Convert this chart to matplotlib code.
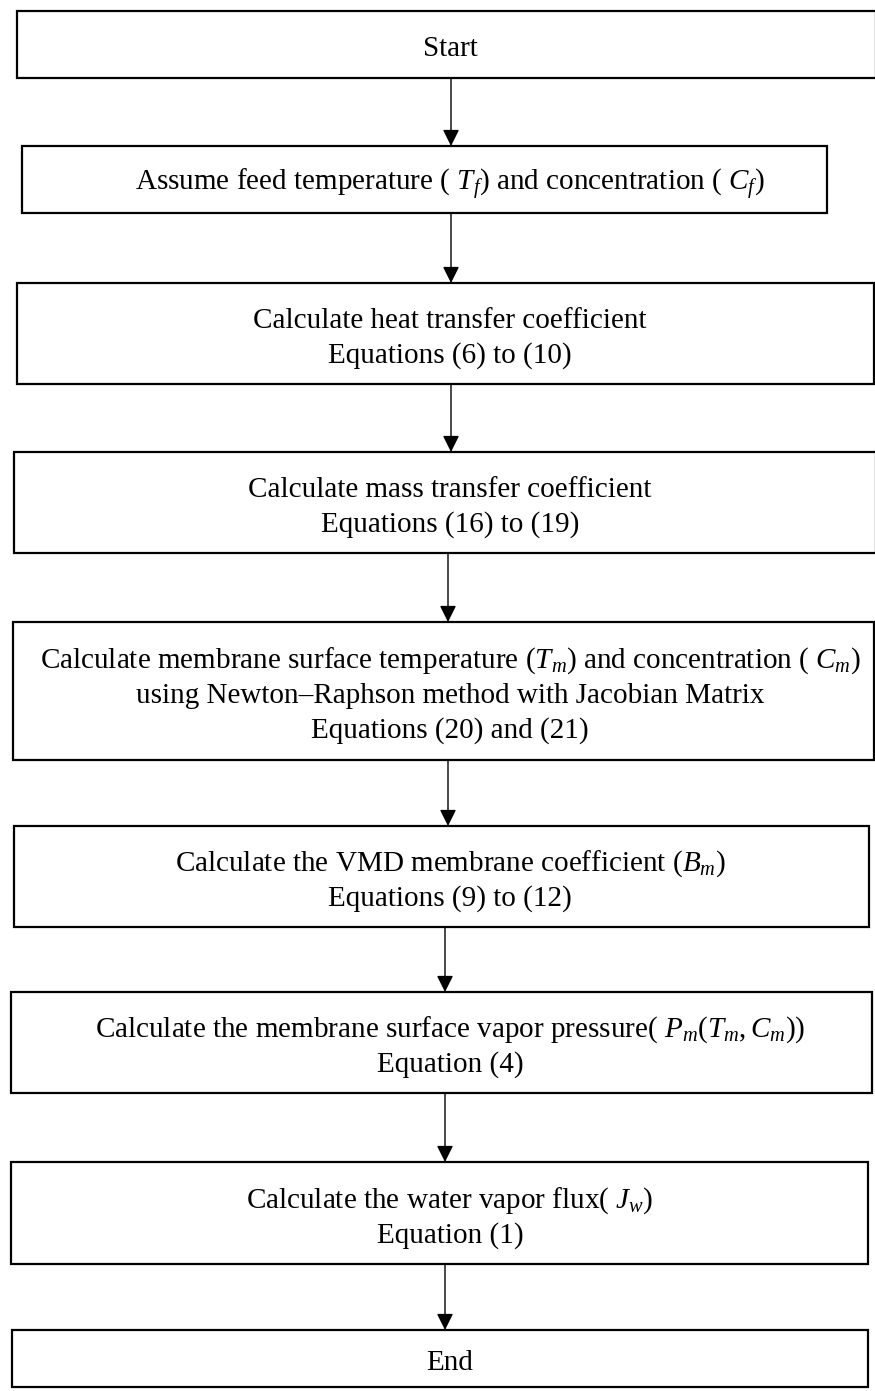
import matplotlib
matplotlib.use("Agg")
import matplotlib.pyplot as plt
from matplotlib.patches import Rectangle

plt.rcParams['font.family'] = ['Liberation Serif', 'DejaVu Serif']
plt.rcParams['mathtext.fontset'] = 'custom'
plt.rcParams['mathtext.rm'] = 'Liberation Serif'
plt.rcParams['mathtext.it'] = 'Liberation Serif:italic'

# ---- content ----
step_titles = [
    "Start",
    "Assume feed temperature ( $T_f$) and concentration ( $C_f$)",
    "Calculate heat transfer coefficient",
    "Calculate mass transfer coefficient",
    "Calculate membrane surface temperature ($T_m$) and concentration ( $C_m$)",
    "Calculate the VMD membrane coefficient ($B_m$)",
    "Calculate the membrane surface vapor pressure( $P_m(T_m, C_m)$)",
    "Calculate the water vapor flux( $J_w$)",
    "End",
]
step_methods = ["", "", "", "",
                "using Newton\u2013Raphson method with Jacobian Matrix",
                "", "", "", ""]
step_equations = ["", "", "Equations (6) to (10)", "Equations (16) to (19)",
                  "Equations (20) and (21)", "Equations (9) to (12)",
                  "Equation (4)", "Equation (1)", ""]

# ---- layout (pixels) ----
W, H = 875, 1391
box_top = [11, 146, 283, 452, 622, 826, 992, 1162, 1330]
box_bottom = [78, 213, 384, 553, 760, 927, 1093, 1264, 1387]
box_left = [17, 22, 17, 14, 13, 14, 11, 11, 12]
box_right = [876, 827, 874, 876, 874, 869, 872, 868, 868]
arrow_x = [451, 451, 451, 448, 448, 445, 445, 445]

fig = plt.figure(figsize=(W / 100, H / 100), dpi=100)
ax = fig.add_axes([0, 0, 1, 1])
ax.set_xlim(0, W)
ax.set_ylim(H, 0)
ax.axis('off')

FS = 21
LS = 35
for i, title in enumerate(step_titles):
    t, b, l, r = box_top[i], box_bottom[i], box_left[i], box_right[i]
    ax.add_patch(Rectangle((l, t), r - l, b - t, fill=False,
                           edgecolor='black', linewidth=1.6, zorder=2))
    lines = [title] + [s for s in (step_methods[i], step_equations[i]) if s]
    n = len(lines)
    cy = (t + b) / 2 + 5
    for k, line in enumerate(lines):
        y = cy + (k - (n - 1) / 2) * LS
        ax.text(450, y, line, ha='center', va='center', fontsize=FS,
                color='black', zorder=3)

for i in range(len(step_titles) - 1):
    x = arrow_x[i]
    ax.annotate("", xy=(x, box_top[i + 1]), xytext=(x, box_bottom[i]),
                arrowprops=dict(arrowstyle='-|>,head_length=0.5,head_width=0.25',
                                color='black', lw=1.0, shrinkA=0, shrinkB=0,
                                mutation_scale=20),
                zorder=1)

fig.savefig("out.png", dpi=100, facecolor='white')
